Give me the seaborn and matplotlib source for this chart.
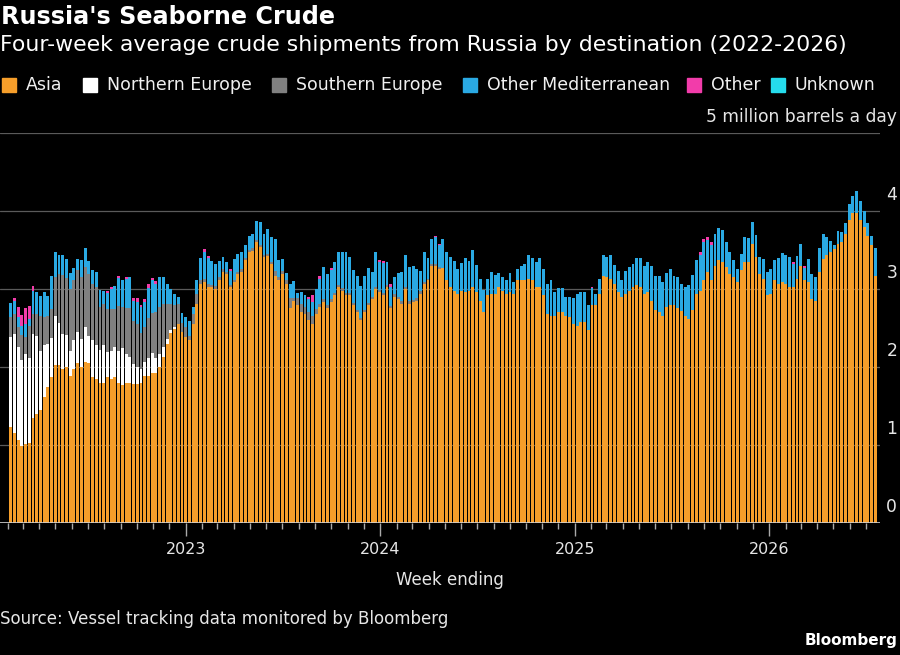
import numpy as np
import pandas as pd
import matplotlib
matplotlib.use('Agg')
import matplotlib.pyplot as plt
import matplotlib.dates as mdates
from matplotlib.lines import Line2D
import seaborn as sns

# Weekly four-week-average shipments, million barrels a day
asia = [
    1.23, 1.16, 1.06, 0.99, 1.01, 1.02, 1.35, 1.40, 1.45, 1.62, 1.74, 1.87, 2.02, 2.02, 1.98, 2.00,
    1.89, 1.98, 2.05, 2.00, 2.06, 2.05, 1.87, 1.85, 1.79, 1.79, 1.87, 1.85, 1.87, 1.79, 1.77, 1.79,
    1.79, 1.78, 1.78, 1.79, 1.89, 1.89,
    1.92, 1.92, 2.00, 2.13, 2.30, 2.43, 2.49, 2.55, 2.45, 2.38, 2.34, 2.55, 2.81, 3.07, 3.09, 3.02,
    3.02, 3.00, 3.11, 3.22, 3.19, 3.02, 3.09, 3.19, 3.22, 3.37, 3.47, 3.49, 3.60, 3.54, 3.41, 3.42,
    3.32, 3.17, 3.11, 3.19, 3.07, 2.75, 2.85,
    2.80, 2.70, 2.68, 2.60, 2.55, 2.68, 2.77, 2.83, 2.75, 2.83, 2.92, 3.02, 2.98, 2.92, 2.92, 2.79,
    2.70, 2.60, 2.70, 2.79, 2.87, 3.00, 2.96, 2.92, 3.02, 2.75, 2.90, 2.87, 2.81, 3.00, 2.81, 2.83,
    2.85, 2.94, 3.07, 3.11, 3.30, 3.30, 3.26,
    3.27, 3.11, 3.02, 2.98, 2.94, 2.98, 2.96, 2.98, 3.02, 2.96, 2.85, 2.70, 2.92, 2.94, 2.94, 3.02,
    2.98, 2.94, 2.96, 2.94, 3.11, 3.12, 3.12, 3.13, 3.12, 3.02, 3.02, 2.92, 2.68, 2.66, 2.66, 2.70,
    2.70, 2.66, 2.64, 2.55, 2.52, 2.58,
    2.58, 2.47, 2.80, 2.79, 2.94, 3.17, 3.15, 3.13, 3.07, 2.96, 2.90, 2.94, 2.98, 3.02, 3.05, 3.03,
    2.94, 2.96, 2.85, 2.73, 2.70, 2.66, 2.77, 2.79, 2.79, 2.75, 2.72, 2.66, 2.62, 2.73, 2.94, 2.98,
    3.11, 3.22, 3.11, 3.30, 3.37, 3.34, 3.28,
    3.19, 3.15, 3.09, 3.24, 3.34, 3.34, 3.58, 3.41, 3.19, 3.13, 2.92, 2.94, 3.11, 3.07, 3.09, 3.07,
    3.02, 3.02, 3.13, 3.30, 3.11, 3.09, 2.87, 2.85, 3.22, 3.39, 3.43, 3.47, 3.51, 3.58, 3.60, 3.71,
    3.88, 3.98, 3.98, 3.88, 3.79, 3.68, 3.56, 3.17,
]

north_europe = [
    1.15, 1.26, 1.19, 1.10, 1.16, 1.09, 1.07, 1.00, 0.76, 0.66, 0.55, 0.50, 0.63, 0.54, 0.44, 0.41,
    0.31, 0.37, 0.40, 0.36, 0.45, 0.35, 0.47, 0.43, 0.43, 0.49, 0.32, 0.36, 0.38, 0.41, 0.47, 0.38,
    0.34, 0.26, 0.22, 0.19, 0.17, 0.23,
    0.26, 0.19, 0.17, 0.13, 0.06, 0.04, 0.02, 0.00,
]

south_europe = [
    0.26, 0.26, 0.26, 0.32, 0.21, 0.41, 0.26, 0.28, 0.44, 0.36, 0.36, 0.37, 0.50, 0.63, 0.76, 0.73,
    0.80, 0.76, 0.79, 0.79, 0.77, 0.79, 0.73, 0.75, 0.55, 0.53, 0.55, 0.53, 0.49, 0.58, 0.53, 0.58,
    0.62, 0.55, 0.55, 0.45, 0.45, 0.51,
    0.51, 0.60, 0.60, 0.55, 0.45, 0.34, 0.28, 0.26, 0.11, 0.13, 0.06, 0.13, 0.13, 0.04, 0.04, 0.04,
    0.03, 0.04, 0.04, 0.03, 0.03, 0.03, 0.03, 0.03, 0.03, 0.03, 0.03, 0.03, 0.03, 0.03, 0.03, 0.03,
    0.03, 0.06, 0.04, 0.04, 0.04, 0.13, 0.04,
    0.09, 0.11, 0.09, 0.11, 0.11, 0.06, 0.04, 0.04, 0.04, 0.04, 0.03, 0.03, 0.03, 0.03, 0.03, 0.03,
    0.03, 0.03, 0.03, 0.03, 0.03, 0.03, 0.03, 0.03, 0.03, 0.03, 0.03, 0.03, 0.03, 0.03, 0.03, 0.03,
    0.03, 0.03, 0.02, 0.02, 0.02, 0.02, 0.02,
]

other_med = [
    0.18, 0.17, 0.13, 0.11, 0.17, 0.09, 0.30, 0.28, 0.26, 0.32, 0.26, 0.43, 0.33, 0.25, 0.26, 0.25,
    0.21, 0.16, 0.14, 0.22, 0.24, 0.17, 0.17, 0.19, 0.22, 0.17, 0.21, 0.26, 0.30, 0.36, 0.34, 0.38,
    0.41, 0.26, 0.28, 0.34, 0.32, 0.38,
    0.43, 0.36, 0.38, 0.34, 0.26, 0.19, 0.15, 0.09, 0.13, 0.13, 0.19, 0.09, 0.18, 0.29, 0.35, 0.34,
    0.31, 0.28, 0.21, 0.16, 0.13, 0.18, 0.26, 0.23, 0.23, 0.17, 0.18, 0.19, 0.24, 0.29, 0.26, 0.32,
    0.32, 0.41, 0.22, 0.15, 0.09, 0.19, 0.21,
    0.06, 0.15, 0.15, 0.16, 0.17, 0.26, 0.32, 0.41, 0.40, 0.37, 0.39, 0.43, 0.46, 0.52, 0.46, 0.42,
    0.44, 0.41, 0.44, 0.45, 0.32, 0.45, 0.35, 0.38, 0.29, 0.25, 0.23, 0.31, 0.38, 0.41, 0.44, 0.44,
    0.38, 0.26, 0.38, 0.27, 0.32, 0.34, 0.28,
    0.37, 0.36, 0.39, 0.38, 0.32, 0.35, 0.44, 0.38, 0.48, 0.35, 0.28, 0.29, 0.21, 0.28, 0.24, 0.19,
    0.17, 0.18, 0.24, 0.15, 0.14, 0.18, 0.20, 0.31, 0.28, 0.32, 0.38, 0.34, 0.38, 0.46, 0.30, 0.31,
    0.31, 0.24, 0.26, 0.33, 0.42, 0.38,
    0.38, 0.32, 0.21, 0.15, 0.19, 0.26, 0.26, 0.31, 0.24, 0.27, 0.22, 0.29, 0.30, 0.30, 0.35, 0.37,
    0.36, 0.38, 0.44, 0.44, 0.47, 0.43, 0.43, 0.47, 0.38, 0.40, 0.34, 0.37, 0.43, 0.45, 0.43, 0.45,
    0.49, 0.41, 0.45, 0.41, 0.41, 0.41, 0.32,
    0.28, 0.22, 0.16, 0.21, 0.33, 0.31, 0.28, 0.28, 0.22, 0.26, 0.30, 0.31, 0.26, 0.33, 0.37, 0.36,
    0.39, 0.30, 0.29, 0.28, 0.16, 0.29, 0.32, 0.30, 0.30, 0.32, 0.24, 0.15, 0.06, 0.16, 0.13, 0.13,
    0.21, 0.21, 0.28, 0.25, 0.21, 0.16, 0.12, 0.36,
]

other = [
    0.00, 0.03, 0.13, 0.15, 0.20, 0.17, 0.06, 0.00, 0.00, 0.00, 0.00, 0.00, 0.00, 0.00, 0.00, 0.00,
    0.00, 0.00, 0.00, 0.00, 0.00, 0.00, 0.00, 0.00, 0.00, 0.00, 0.02, 0.03, 0.00, 0.03, 0.00, 0.02,
    0.00, 0.03, 0.06, 0.03, 0.04, 0.06,
    0.02, 0.03, 0.00, 0.00, 0.00, 0.00, 0.00, 0.00, 0.00, 0.00, 0.00, 0.00, 0.00, 0.00, 0.03, 0.02,
    0.00, 0.00, 0.00, 0.00, 0.00, 0.02, 0.00, 0.00, 0.00, 0.00, 0.00, 0.00, 0.00, 0.00, 0.00, 0.00,
    0.00, 0.00, 0.00, 0.00, 0.00, 0.00, 0.00,
    0.00, 0.00, 0.00, 0.03, 0.09, 0.00, 0.04, 0.00, 0.00, 0.03, 0.00, 0.00, 0.00, 0.00, 0.00, 0.00,
    0.00, 0.00, 0.00, 0.00, 0.00, 0.00, 0.03, 0.03, 0.00, 0.03, 0.00, 0.00, 0.00, 0.00, 0.00, 0.00,
    0.00, 0.00, 0.00, 0.00, 0.00, 0.02, 0.02,
    0.00, 0.00, 0.00, 0.00, 0.00, 0.00, 0.00, 0.00, 0.00, 0.00, 0.00, 0.00, 0.00, 0.00, 0.00, 0.00,
    0.00, 0.00, 0.00, 0.00, 0.00, 0.00, 0.00, 0.00, 0.00, 0.00, 0.00, 0.00, 0.00, 0.00, 0.00, 0.00,
    0.00, 0.00, 0.00, 0.00, 0.00, 0.00,
    0.00, 0.00, 0.02, 0.00, 0.00, 0.00, 0.00, 0.00, 0.00, 0.00, 0.00, 0.00, 0.00, 0.00, 0.00, 0.00,
    0.00, 0.00, 0.00, 0.00, 0.00, 0.00, 0.00, 0.00, 0.00, 0.00, 0.00, 0.00, 0.00, 0.00, 0.00, 0.05,
    0.04, 0.04, 0.04, 0.00, 0.00, 0.00, 0.00,
    0.00, 0.00, 0.00, 0.00, 0.00, 0.00, 0.00, 0.00, 0.00, 0.00, 0.00, 0.00, 0.00, 0.00, 0.00, 0.00,
    0.00, 0.02, 0.00, 0.00, 0.02, 0.00, 0.00, 0.00, 0.00, 0.00, 0.00, 0.00, 0.00, 0.00, 0.00, 0.00,
    0.00, 0.00, 0.00, 0.00, 0.00, 0.00, 0.00, 0.00,
]

n_weeks = len(asia)
# European flows stop after the embargo; the rest of those series is zero
north_europe = north_europe + [0.0] * (n_weeks - len(north_europe))
south_europe = south_europe + [0.0] * (n_weeks - len(south_europe))
unknown = [0.0] * n_weeks

series_names = ['Asia', 'Northern Europe', 'Southern Europe', 'Other Mediterranean', 'Other', 'Unknown']
series_colors = ['#f69e2a', '#ffffff', '#808080', '#2aa9e3', '#f23caa', '#25dcec']
y_ticks = [0, 1, 2, 3, 4, 5]
y_labels = ['0', '1', '2', '3', '4', '5 million barrels a day']

week_ending = pd.date_range('2022-02-06', periods=n_weeks, freq='W-SUN')
df = pd.DataFrame({
    'Asia': asia,
    'Northern Europe': north_europe,
    'Southern Europe': south_europe,
    'Other Mediterranean': other_med,
    'Other': other,
    'Unknown': unknown,
}, index=week_ending)
# baseline of each layer = sum of the layers below it
bottoms = df[series_names].cumsum(axis=1) - df[series_names]

sns.set_theme(style='dark', rc={
    'figure.facecolor': 'black',
    'axes.facecolor': 'black',
    'savefig.facecolor': 'black',
    'text.color': 'white',
})
plt.rcParams['font.family'] = ['DejaVu Sans']

fig = plt.figure(figsize=(9, 6.55), dpi=100)
ax = fig.add_axes([0.0, 0.2015, 0.978, 0.5955])
ax.set_facecolor('black')

xnum = mdates.date2num(week_ending)
for name, color in zip(series_names, series_colors):
    sns.barplot(x=xnum, y=df[name].values, bottom=bottoms[name].values, native_scale=True,
                color=color, saturation=1, width=0.78, errorbar=None, linewidth=0,
                ax=ax, zorder=2)

ax.set_xlim(mdates.date2num(pd.Timestamp('2023-01-01')) - 348.9,
            mdates.date2num(pd.Timestamp('2023-01-01')) + 1304.3)
ax.set_ylim(0, 5)
ax.set_xlabel('')
ax.set_ylabel('')
for s in ax.spines.values():
    s.set_visible(False)

# horizontal gridlines and right-hand labels sitting above them
ax.set_yticks(y_ticks)
ax.set_yticklabels([])
ax.tick_params(axis='y', length=0)
ax.yaxis.grid(True, color='#5a5a5a', linewidth=0.9)
ax.xaxis.grid(False)
ax.set_axisbelow(True)
ytrans = ax.get_yaxis_transform()
for v, lab in zip(y_ticks, y_labels):
    ax.text(897 / 880, v + 0.21, lab, transform=ytrans, ha='right', va='center',
            fontsize=12.3, color='#e6e6e6', clip_on=False)
ax.axhline(0, color='#cfcfcf', linewidth=1.2, zorder=3)

ax.xaxis.set_major_locator(mdates.YearLocator())
ax.xaxis.set_minor_locator(mdates.MonthLocator())
ax.xaxis.set_major_formatter(mdates.DateFormatter('%Y'))
ax.tick_params(axis='x', which='major', bottom=True, length=9, width=1, color='#aaaaaa',
               labelsize=11.5, labelcolor='#e6e6e6', pad=5)
ax.tick_params(axis='x', which='minor', bottom=True, length=4, width=1, color='#aaaaaa')

# header
fig.text(0.001, 1 - 17 / 655, "Russia's Seaborne Crude", fontsize=17.2, fontweight='bold',
         color='white', ha='left', va='center')
fig.text(0.0, 1 - 45 / 655, 'Four-week average crude shipments from Russia by destination (2022-2026)',
         fontsize=15.8, color='white', ha='left', va='center')

# legend row
legend_text_x = [26, 107, 296, 487, 711, 795]
for name, color, tx in zip(series_names, series_colors, legend_text_x):
    fig.add_artist(Line2D([(tx - 17) / 900], [1 - 85 / 655], marker='s', markersize=9.5,
                          linestyle='', color=color, transform=fig.transFigure))
    fig.text(tx / 900, 1 - 85 / 655, name, fontsize=12.5, color='#f0f0f0', ha='left', va='center')

# footer
fig.text(0.5, 1 - 580 / 655, 'Week ending', fontsize=12, color='#e6e6e6', ha='center', va='center')
fig.text(0.0, 1 - 619 / 655, 'Source: Vessel tracking data monitored by Bloomberg', fontsize=12,
         color='#e6e6e6', ha='left', va='center')
fig.text(897 / 900, 1 - 640 / 655, 'Bloomberg', fontsize=11, fontweight='bold', color='white',
         ha='right', va='center')

fig.savefig('out.png', dpi=100, facecolor='black')
